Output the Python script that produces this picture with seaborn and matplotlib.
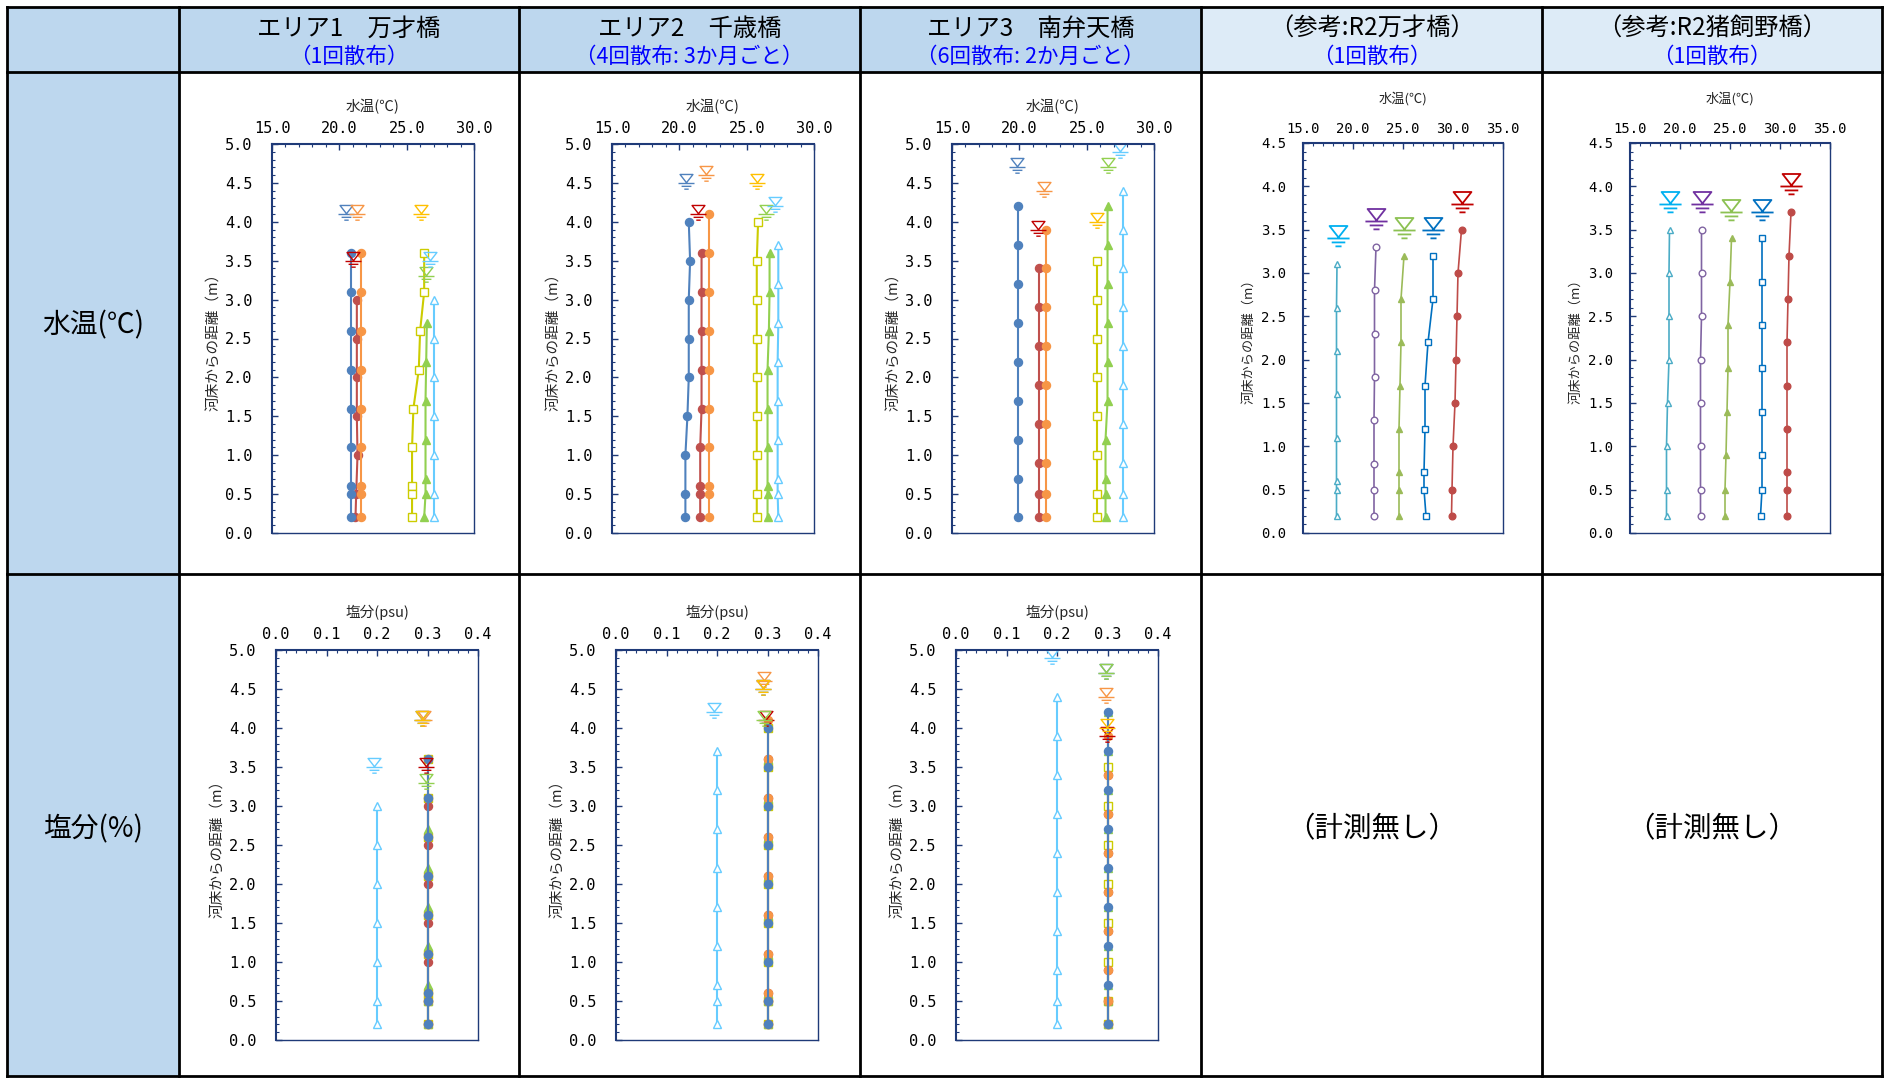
import matplotlib
matplotlib.use("Agg")
import matplotlib.pyplot as plt
from matplotlib.path import Path
from matplotlib.markers import MarkerStyle
from matplotlib.patches import Rectangle
from matplotlib.ticker import MultipleLocator, FormatStrFormatter
import pandas as pd
import seaborn as sns

# ---------------------------------------------------------------------------
# Data: depth above river bed (m), water temperature (°C), salinity (psu)
# Series per area: blue, orange, red, yellow, green, lightblue
# ---------------------------------------------------------------------------

# エリア1 万才橋
a1_blue_z = [3.6, 3.1, 2.6, 2.1, 1.6, 1.1, 0.6, 0.5, 0.2]
a1_blue_t = [20.9, 20.9, 20.9, 20.9, 20.9, 20.9, 20.9, 20.9, 20.9]
a1_blue_s = [0.3, 0.3, 0.3, 0.3, 0.3, 0.3, 0.3, 0.3, 0.3]
a1_orange_z = [3.6, 3.1, 2.6, 2.1, 1.6, 1.1, 0.6, 0.5, 0.2]
a1_orange_t = [21.6, 21.6, 21.6, 21.6, 21.6, 21.6, 21.6, 21.6, 21.6]
a1_orange_s = [0.3, 0.3, 0.3, 0.3, 0.3, 0.3, 0.3, 0.3, 0.3]
a1_red_z = [3.0, 2.5, 2.0, 1.5, 1.0, 0.5, 0.2]
a1_red_t = [21.3, 21.3, 21.3, 21.3, 21.35, 21.25, 21.2]
a1_red_s = [0.3, 0.3, 0.3, 0.3, 0.3, 0.3, 0.3]
a1_yellow_z = [3.6, 3.1, 2.6, 2.1, 1.6, 1.1, 0.6, 0.5, 0.2]
a1_yellow_t = [26.3, 26.3, 26.0, 25.9, 25.5, 25.4, 25.4, 25.4, 25.4]
a1_yellow_s = [0.3, 0.3, 0.3, 0.3, 0.3, 0.3, 0.3, 0.3, 0.3]
a1_green_z = [2.7, 2.2, 1.7, 1.2, 0.7, 0.5, 0.2]
a1_green_t = [26.5, 26.45, 26.4, 26.4, 26.4, 26.4, 26.3]
a1_green_s = [0.3, 0.3, 0.3, 0.3, 0.3, 0.3, 0.3]
a1_lightblue_z = [3.0, 2.5, 2.0, 1.5, 1.0, 0.5, 0.2]
a1_lightblue_t = [27.0, 27.0, 27.0, 27.0, 27.0, 27.0, 27.0]
a1_lightblue_s = [0.2, 0.2, 0.2, 0.2, 0.2, 0.2, 0.2]
# water surface (blue, orange, red, yellow, green, lightblue)
a1_wl_z = [4.1, 4.1, 3.5, 4.1, 3.3, 3.5]
a1_wl_t = [20.5, 21.3, 21.05, 26.05, 26.4, 26.75]
a1_wl_s = [0.29, 0.293, 0.298, 0.29, 0.298, 0.195]

# エリア2 千歳橋
a2_blue_z = [4.0, 3.5, 3.0, 2.5, 2.0, 1.5, 1.0, 0.5, 0.2]
a2_blue_t = [20.7, 20.8, 20.7, 20.7, 20.7, 20.6, 20.45, 20.45, 20.45]
a2_blue_s = [0.3, 0.3, 0.3, 0.3, 0.3, 0.3, 0.3, 0.3, 0.3]
a2_orange_z = [4.1, 3.6, 3.1, 2.6, 2.1, 1.6, 1.1, 0.6, 0.5, 0.2]
a2_orange_t = [22.2, 22.2, 22.2, 22.2, 22.2, 22.2, 22.2, 22.2, 22.2, 22.2]
a2_orange_s = [0.3, 0.3, 0.3, 0.3, 0.3, 0.3, 0.3, 0.3, 0.3, 0.3]
a2_red_z = [3.6, 3.1, 2.6, 2.1, 1.6, 1.1, 0.6, 0.5, 0.2]
a2_red_t = [21.65, 21.65, 21.65, 21.65, 21.65, 21.55, 21.55, 21.55, 21.55]
a2_red_s = [0.3, 0.3, 0.3, 0.3, 0.3, 0.3, 0.3, 0.3, 0.3]
a2_yellow_z = [4.0, 3.5, 3.0, 2.5, 2.0, 1.5, 1.0, 0.5, 0.2]
a2_yellow_t = [25.85, 25.75, 25.75, 25.75, 25.75, 25.75, 25.75, 25.75, 25.75]
a2_yellow_s = [0.3, 0.3, 0.3, 0.3, 0.3, 0.3, 0.3, 0.3, 0.3]
a2_green_z = [3.6, 3.1, 2.6, 2.1, 1.6, 1.1, 0.6, 0.5, 0.2]
a2_green_t = [26.7, 26.7, 26.65, 26.55, 26.55, 26.55, 26.55, 26.55, 26.55]
a2_green_s = [0.3, 0.3, 0.3, 0.3, 0.3, 0.3, 0.3, 0.3, 0.3]
a2_lightblue_z = [3.7, 3.2, 2.7, 2.2, 1.7, 1.2, 0.7, 0.5, 0.2]
a2_lightblue_t = [27.35, 27.35, 27.35, 27.3, 27.3, 27.3, 27.3, 27.3, 27.35]
a2_lightblue_s = [0.2, 0.2, 0.2, 0.2, 0.2, 0.2, 0.2, 0.2, 0.2]
a2_wl_z = [4.5, 4.6, 4.1, 4.5, 4.1, 4.2]
a2_wl_t = [20.5, 22.0, 21.4, 25.75, 26.45, 27.1]
a2_wl_s = [0.292, 0.294, 0.298, 0.292, 0.293, 0.194]

# エリア3 南弁天橋
a3_blue_z = [4.2, 3.7, 3.2, 2.7, 2.2, 1.7, 1.2, 0.7, 0.2]
a3_blue_t = [19.9, 19.9, 19.9, 19.9, 19.9, 19.9, 19.9, 19.9, 19.9]
a3_blue_s = [0.3, 0.3, 0.3, 0.3, 0.3, 0.3, 0.3, 0.3, 0.3]
a3_orange_z = [3.9, 3.4, 2.9, 2.4, 1.9, 1.4, 0.9, 0.5, 0.2]
a3_orange_t = [21.95, 21.95, 21.95, 21.95, 21.95, 21.95, 21.95, 21.95, 21.95]
a3_orange_s = [0.3, 0.3, 0.3, 0.3, 0.3, 0.3, 0.3, 0.3, 0.3]
a3_red_z = [3.4, 2.9, 2.4, 1.9, 1.4, 0.9, 0.5, 0.2]
a3_red_t = [21.45, 21.45, 21.45, 21.45, 21.45, 21.45, 21.45, 21.45]
a3_red_s = [0.3, 0.3, 0.3, 0.3, 0.3, 0.3, 0.3, 0.3]
a3_yellow_z = [3.5, 3.0, 2.5, 2.0, 1.5, 1.0, 0.5, 0.2]
a3_yellow_t = [25.75, 25.75, 25.75, 25.75, 25.75, 25.75, 25.75, 25.75]
a3_yellow_s = [0.3, 0.3, 0.3, 0.3, 0.3, 0.3, 0.3, 0.3]
a3_green_z = [4.2, 3.7, 3.2, 2.7, 2.2, 1.7, 1.2, 0.7, 0.5, 0.2]
a3_green_t = [26.55, 26.55, 26.55, 26.55, 26.55, 26.55, 26.4, 26.4, 26.4, 26.4]
a3_green_s = [0.3, 0.3, 0.3, 0.3, 0.3, 0.3, 0.3, 0.3, 0.3, 0.3]
a3_lightblue_z = [4.4, 3.9, 3.4, 2.9, 2.4, 1.9, 1.4, 0.9, 0.5, 0.2]
a3_lightblue_t = [27.7, 27.7, 27.7, 27.7, 27.7, 27.7, 27.7, 27.7, 27.7, 27.7]
a3_lightblue_s = [0.2, 0.2, 0.2, 0.2, 0.2, 0.2, 0.2, 0.2, 0.2, 0.2]
a3_wl_z = [4.7, 4.4, 3.9, 4.0, 4.7, 4.9]
a3_wl_t = [19.8, 21.8, 21.35, 25.75, 26.55, 27.5]
a3_wl_s = [0.297, 0.297, 0.299, 0.299, 0.297, 0.191]

# 参考: R2万才橋 (series: cyan, purple, green, blue, red)
r1_cyan_z = [3.1, 2.6, 2.1, 1.6, 1.1, 0.6, 0.5, 0.2]
r1_cyan_t = [18.4, 18.35, 18.35, 18.35, 18.35, 18.35, 18.35, 18.35]
r1_purple_z = [3.3, 2.8, 2.3, 1.8, 1.3, 0.8, 0.5, 0.2]
r1_purple_t = [22.3, 22.15, 22.15, 22.15, 22.1, 22.1, 22.1, 22.1]
r1_green_z = [3.2, 2.7, 2.2, 1.7, 1.2, 0.7, 0.5, 0.2]
r1_green_t = [25.1, 24.8, 24.8, 24.7, 24.6, 24.6, 24.6, 24.6]
r1_blue_z = [3.2, 2.7, 2.2, 1.7, 1.2, 0.7, 0.5, 0.2]
r1_blue_t = [28.0, 28.0, 27.5, 27.2, 27.2, 27.1, 27.1, 27.3]
r1_red_z = [3.5, 3.0, 2.5, 2.0, 1.5, 1.0, 0.5, 0.2]
r1_red_t = [30.85, 30.5, 30.4, 30.3, 30.2, 30.0, 29.9, 29.85]
r1_wl_z = [3.4, 3.6, 3.5, 3.5, 3.8]
r1_wl_t = [18.45, 22.25, 25.1, 27.95, 30.85]

# 参考: R2猪飼野橋
r2_cyan_z = [3.5, 3.0, 2.5, 2.0, 1.5, 1.0, 0.5, 0.2]
r2_cyan_t = [18.95, 18.9, 18.9, 18.9, 18.75, 18.65, 18.65, 18.65]
r2_purple_z = [3.5, 3.0, 2.5, 2.0, 1.5, 1.0, 0.5, 0.2]
r2_purple_t = [22.15, 22.15, 22.15, 22.05, 22.05, 22.05, 22.05, 22.05]
r2_green_z = [3.4, 2.9, 2.4, 1.9, 1.4, 0.9, 0.5, 0.2]
r2_green_t = [25.15, 25.0, 24.8, 24.8, 24.7, 24.6, 24.5, 24.5]
r2_blue_z = [3.4, 2.9, 2.4, 1.9, 1.4, 0.9, 0.5, 0.2]
r2_blue_t = [28.2, 28.2, 28.2, 28.2, 28.2, 28.2, 28.2, 28.05]
r2_red_z = [3.7, 3.2, 2.7, 2.2, 1.7, 1.2, 0.7, 0.5, 0.2]
r2_red_t = [31.1, 30.9, 30.8, 30.7, 30.7, 30.7, 30.7, 30.7, 30.7]
r2_wl_z = [3.8, 3.8, 3.7, 3.7, 4.0]
r2_wl_t = [18.95, 22.2, 25.05, 28.2, 31.1]

# Table text
col_titles = ["エリア1\u3000万才橋", "エリア2\u3000千歳橋", "エリア3\u3000南弁天橋",
              "（参考:R2万才橋）", "（参考:R2猪飼野橋）"]
col_subtitles = ["（1回散布）", "（4回散布: 3か月ごと）", "（6回散布: 2か月ごと）",
                 "（1回散布）", "（1回散布）"]
row_titles = ["水温(℃)", "塩分(%)"]
no_data_text = "（計測無し）"

# ---------------------------------------------------------------------------
# Styles
# ---------------------------------------------------------------------------
sns.set_style("white")
plt.rcParams["font.family"] = ["Noto Sans CJK JP", "DejaVu Sans"]
plt.rcParams["axes.unicode_minus"] = False

NAVY = "#1F3A78"
TICK_FONT = "DejaVu Sans Mono"

AREA_ORDER = ["lightblue", "yellow", "green", "red", "orange", "blue"]
AREA_STYLE = {
    "blue": ("#4F81BD", "o", True),
    "orange": ("#F79646", "o", True),
    "red": ("#C0504D", "o", True),
    "yellow": ("#CCCC00", "s", False),
    "green": ("#92D050", "^", True),
    "lightblue": ("#66CCFF", "^", False),
}
AREA_WL_ORDER = ["blue", "orange", "red", "yellow", "green", "lightblue"]
AREA_WL_COLOR = {
    "blue": "#4F81BD", "orange": "#F79646", "red": "#C00000",
    "yellow": "#FFC000", "green": "#92D050", "lightblue": "#66CCFF",
}

REF_ORDER = ["cyan", "purple", "green", "blue", "red"]
REF_STYLE = {
    "cyan": ("#4BACC6", "^", False),
    "purple": ("#8064A2", "o", False),
    "green": ("#9BBB59", "^", True),
    "blue": ("#0070C0", "s", False),
    "red": ("#BE4B48", "o", True),
}
REF_WL_COLOR = {
    "cyan": "#00B0F0", "purple": "#7030A0", "green": "#8CC152",
    "blue": "#0070C0", "red": "#C00000",
}


def water_level_marker():
    """Water-surface symbol: open down-triangle above three shrinking bars."""
    verts = [(-0.5, 0.7), (0.5, 0.7), (0.0, 0.06), (-0.5, 0.7),
             (-0.62, 0.0), (0.62, 0.0),
             (-0.38, -0.22), (0.38, -0.22),
             (-0.17, -0.44), (0.17, -0.44)]
    codes = [Path.MOVETO, Path.LINETO, Path.LINETO, Path.CLOSEPOLY,
             Path.MOVETO, Path.LINETO,
             Path.MOVETO, Path.LINETO,
             Path.MOVETO, Path.LINETO]
    return MarkerStyle(Path(verts, codes))


WL_MARKER = water_level_marker()

W, H = 1889, 1078
fig = plt.figure(figsize=(W / 100, H / 100), dpi=100)

# ---------------------------------------------------------------------------
# Table frame (pixel coordinates, origin top-left)
# ---------------------------------------------------------------------------
bg = fig.add_axes([0, 0, 1, 1])
bg.set_xlim(0, W)
bg.set_ylim(H, 0)
bg.axis("off")

col_x = [7, 179, 519, 860, 1201, 1542, 1882]
row_y = [7, 72, 574, 1076]
DARK_FILL = "#BDD7EE"
LIGHT_FILL = "#DDEBF7"

# first column
bg.add_patch(Rectangle((col_x[0], row_y[0]), col_x[1] - col_x[0], row_y[3] - row_y[0],
                       facecolor=DARK_FILL, edgecolor="none"))
# header cells
for i in range(1, 6):
    fill = DARK_FILL if i <= 3 else LIGHT_FILL
    bg.add_patch(Rectangle((col_x[i], row_y[0]), col_x[i + 1] - col_x[i], row_y[1] - row_y[0],
                           facecolor=fill, edgecolor="none"))

for x in col_x:
    bg.plot([x, x], [row_y[0], row_y[3]], color="black", lw=2.0, solid_capstyle="projecting")
for y in row_y:
    bg.plot([col_x[0], col_x[-1]], [y, y], color="black", lw=2.0, solid_capstyle="projecting")

for i in range(5):
    cx = (col_x[i + 1] + col_x[i + 2]) / 2
    bg.text(cx, 29, col_titles[i], ha="center", va="center", fontsize=17.5, color="black")
    bg.text(cx, 57, col_subtitles[i], ha="center", va="center", fontsize=15.5, color="#0000FF")

c0 = (col_x[0] + col_x[1]) / 2
bg.text(c0, 325, row_titles[0], ha="center", va="center", fontsize=20, color="black")
bg.text(c0, 829, row_titles[1], ha="center", va="center", fontsize=20, color="black")
for i in (4, 5):
    cx = (col_x[i] + col_x[i + 1]) / 2
    bg.text(cx, 829, no_data_text, ha="center", va="center", fontsize=20.5, color="black")


# ---------------------------------------------------------------------------
# Profile panels
# ---------------------------------------------------------------------------
def panel(box):
    l, t, r, b = box
    return fig.add_axes([l / W, 1 - b / H, (r - l) / W, (b - t) / H])


def style_axes(ax, xlim, xmaj, xmin_, ylim, xfmt, tick_fs, xlabel, label_fs,
               xpad, ypad, xlabelpad, ylabelpad):
    ax.set_xlim(*xlim)
    ax.set_ylim(*ylim)
    ax.xaxis.set_major_locator(MultipleLocator(xmaj))
    ax.xaxis.set_minor_locator(MultipleLocator(xmin_))
    ax.yaxis.set_major_locator(MultipleLocator(0.5))
    ax.yaxis.set_minor_locator(MultipleLocator(0.1))
    ax.xaxis.set_major_formatter(FormatStrFormatter(xfmt))
    ax.yaxis.set_major_formatter(FormatStrFormatter("%.1f"))
    ax.xaxis.tick_top()
    ax.xaxis.set_label_position("top")
    ax.tick_params(which="both", direction="in", top=True, bottom=False,
                   left=True, right=False, color=NAVY)
    ax.tick_params(which="major", length=4.5, width=1.0, labelsize=tick_fs,
                   labelfontfamily=TICK_FONT, labelcolor="black")
    ax.tick_params(which="minor", length=2.5, width=0.8)
    ax.tick_params(axis="x", which="major", pad=xpad)
    ax.tick_params(axis="y", which="major", pad=ypad)
    for side in ("left", "top"):
        ax.spines[side].set_color(NAVY)
        ax.spines[side].set_linewidth(1.5)
    for side in ("right", "bottom"):
        ax.spines[side].set_color(NAVY)
        ax.spines[side].set_linewidth(1.0)
    ax.set_xlabel(xlabel, fontsize=label_fs, labelpad=xlabelpad)
    ax.set_ylabel("河床からの距離（m）", fontsize=label_fs, labelpad=ylabelpad)
    ax.grid(False)
    ax.set_facecolor("white")


def draw_profile(ax, depth, value, color, marker, filled, ms, lw):
    df = pd.DataFrame({"value": value, "depth": depth})
    sns.lineplot(data=df, x="value", y="depth", sort=False, estimator=None, orient="y",
                 ax=ax, color=color, linewidth=lw, marker=marker, markersize=ms,
                 markerfacecolor=color if filled else "white",
                 markeredgecolor=color, markeredgewidth=1.0, legend=False)


def draw_water_levels(ax, xs, zs, colors, ms, mew):
    for x, z, c in zip(xs, zs, colors):
        ax.plot([x], [z], linestyle="none", marker=WL_MARKER, markersize=ms,
                markerfacecolor="none", markeredgecolor=c, markeredgewidth=mew)


area_data = [
    {
        "blue": (a1_blue_z, a1_blue_t, a1_blue_s),
        "orange": (a1_orange_z, a1_orange_t, a1_orange_s),
        "red": (a1_red_z, a1_red_t, a1_red_s),
        "yellow": (a1_yellow_z, a1_yellow_t, a1_yellow_s),
        "green": (a1_green_z, a1_green_t, a1_green_s),
        "lightblue": (a1_lightblue_z, a1_lightblue_t, a1_lightblue_s),
        "wl": (a1_wl_z, a1_wl_t, a1_wl_s),
    },
    {
        "blue": (a2_blue_z, a2_blue_t, a2_blue_s),
        "orange": (a2_orange_z, a2_orange_t, a2_orange_s),
        "red": (a2_red_z, a2_red_t, a2_red_s),
        "yellow": (a2_yellow_z, a2_yellow_t, a2_yellow_s),
        "green": (a2_green_z, a2_green_t, a2_green_s),
        "lightblue": (a2_lightblue_z, a2_lightblue_t, a2_lightblue_s),
        "wl": (a2_wl_z, a2_wl_t, a2_wl_s),
    },
    {
        "blue": (a3_blue_z, a3_blue_t, a3_blue_s),
        "orange": (a3_orange_z, a3_orange_t, a3_orange_s),
        "red": (a3_red_z, a3_red_t, a3_red_s),
        "yellow": (a3_yellow_z, a3_yellow_t, a3_yellow_s),
        "green": (a3_green_z, a3_green_t, a3_green_s),
        "lightblue": (a3_lightblue_z, a3_lightblue_t, a3_lightblue_s),
        "wl": (a3_wl_z, a3_wl_t, a3_wl_s),
    },
]

temp_boxes = [(272, 144, 474, 533), (612, 144, 814, 533), (952, 144, 1154, 533)]
sal_boxes = [(276, 650, 478, 1040), (616, 650, 818, 1040), (956, 650, 1158, 1040)]

for data, tbox, sbox in zip(area_data, temp_boxes, sal_boxes):
    wl_z, wl_t, wl_s = data["wl"]
    wl_colors = [AREA_WL_COLOR[k] for k in AREA_WL_ORDER]

    # water temperature
    ax = panel(tbox)
    for key in AREA_ORDER:
        z, t, _ = data[key]
        color, marker, filled = AREA_STYLE[key]
        draw_profile(ax, z, t, color, marker, filled, ms=5.8, lw=1.5)
    draw_water_levels(ax, wl_t, wl_z, wl_colors, ms=13, mew=1.0)
    style_axes(ax, (15, 30), 5, 1, (0, 5), "%.1f", 11, "水温(℃)", 10.5,
               xpad=6, ypad=14, xlabelpad=7, ylabelpad=3)

    # salinity
    ax = panel(sbox)
    for key in AREA_ORDER:
        z, _, s = data[key]
        color, marker, filled = AREA_STYLE[key]
        draw_profile(ax, z, s, color, marker, filled, ms=5.8, lw=1.5)
    draw_water_levels(ax, wl_s, wl_z, wl_colors, ms=13, mew=1.0)
    style_axes(ax, (0, 0.4), 0.1, 0.02, (0, 5), "%.1f", 11, "塩分(psu)", 10.5,
               xpad=6, ypad=14, xlabelpad=7, ylabelpad=3)

ref_data = [
    {
        "cyan": (r1_cyan_z, r1_cyan_t), "purple": (r1_purple_z, r1_purple_t),
        "green": (r1_green_z, r1_green_t), "blue": (r1_blue_z, r1_blue_t),
        "red": (r1_red_z, r1_red_t), "wl": (r1_wl_z, r1_wl_t),
    },
    {
        "cyan": (r2_cyan_z, r2_cyan_t), "purple": (r2_purple_z, r2_purple_t),
        "green": (r2_green_z, r2_green_t), "blue": (r2_blue_z, r2_blue_t),
        "red": (r2_red_z, r2_red_t), "wl": (r2_wl_z, r2_wl_t),
    },
]
ref_boxes = [(1303, 143, 1503, 533), (1630, 143, 1830, 533)]

for data, box in zip(ref_data, ref_boxes):
    ax = panel(box)
    for key in REF_ORDER:
        z, t = data[key]
        color, marker, filled = REF_STYLE[key]
        draw_profile(ax, z, t, color, marker, filled, ms=4.8, lw=1.2)
    wl_z, wl_t = data["wl"]
    draw_water_levels(ax, wl_t, wl_z, [REF_WL_COLOR[k] for k in REF_ORDER], ms=18, mew=1.3)
    style_axes(ax, (15, 35), 5, 1, (0, 4.5), "%.1f", 10, "水温(℃)", 9.5,
               xpad=5, ypad=12, xlabelpad=14, ylabelpad=4)

fig.savefig("out.png", dpi=100, facecolor="white")
